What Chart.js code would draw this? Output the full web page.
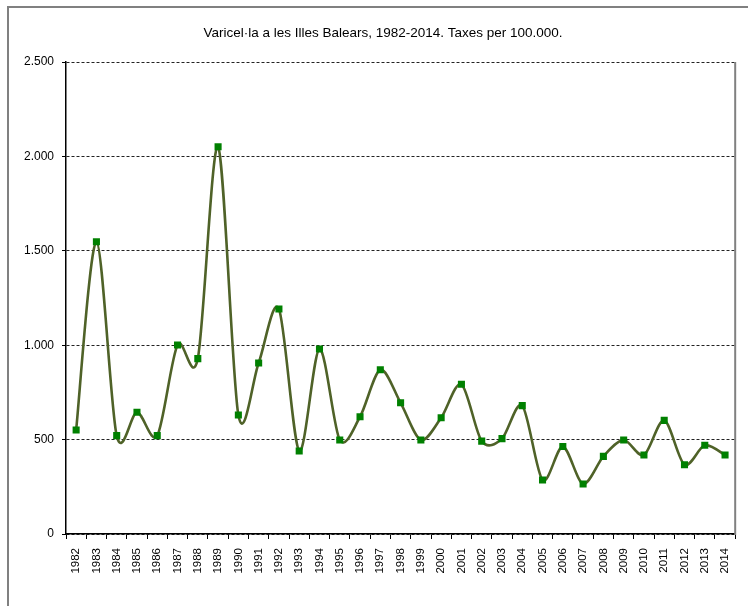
<!DOCTYPE html>
<html>
<head>
<meta charset="utf-8">
<script src="https://cdn.jsdelivr.net/npm/chart.js@4.4.1/dist/chart.umd.min.js"></script>
<style>
  html, body { margin: 0; padding: 0; background: #fff; }
  #c { display: block; }
</style>
</head>
<body>
<canvas id="c" width="748" height="606"></canvas>
<script>
const titleText = 'Varicel·la a les Illes Balears, 1982-2014. Taxes per 100.000.';
const years = ['1982','1983','1984','1985','1986','1987','1988','1989','1990','1991','1992','1993','1994','1995','1996','1997','1998','1999','2000','2001','2002','2003','2004','2005','2006','2007','2008','2009','2010','2011','2012','2013','2014'];
const rates = [551,1548,521,645,521,1001,929,2051,630,906,1192,440,980,498,621,870,695,498,616,793,492,505,680,286,463,265,411,498,418,602,367,470,418];
const yTickLabels = ['0','500','1.000','1.500','2.000','2.500'];

const FONT = "'Liberation Sans', Arial, sans-serif";

// Excel-like smoothing: uniform Catmull-Rom control points computed from the
// pixel positions that Chart.js itself assigned to the points.
const smoothPlugin = {
  id: 'excelSmooth',
  beforeDatasetDraw(chart, args) {
    const meta = args.meta;
    const pts = meta.data;
    const k = 0.15;
    const n = pts.length;
    for (let i = 0; i < n; i++) {
      const p = pts[i];
      const prev = pts[Math.max(0, i - 1)];
      const next = pts[Math.min(n - 1, i + 1)];
      const dx = next.x - prev.x;
      const dy = next.y - prev.y;
      p.cp1x = p.x - dx * k;
      p.cp1y = p.y - dy * k;
      p.cp2x = p.x + dx * k;
      p.cp2y = p.y + dy * k;
    }
    if (meta.dataset) {
      meta.dataset._pointsUpdated = true;
      meta.dataset._path = undefined;
    }
  }
};

const framePlugin = {
  id: 'frame',
  beforeDraw(chart) {
    const ctx = chart.ctx;
    ctx.save();
    ctx.fillStyle = '#fff';
    ctx.fillRect(0, 0, chart.width, chart.height);
    ctx.strokeStyle = '#808080';
    ctx.lineWidth = 2;
    ctx.beginPath();
    ctx.moveTo(8, chart.height);
    ctx.lineTo(8, 7);
    ctx.lineTo(chart.width, 7);
    ctx.stroke();
    ctx.restore();
  },
  afterDraw(chart) {
    const ctx = chart.ctx;
    const a = chart.chartArea;
    ctx.save();
    ctx.strokeStyle = '#808080';
    ctx.lineWidth = 2;
    ctx.beginPath();
    ctx.moveTo(a.right, a.top);
    ctx.lineTo(a.right, a.bottom + 1);
    ctx.stroke();
    ctx.fillStyle = '#000';
    ctx.font = '13.5px ' + FONT;
    ctx.textAlign = 'center';
    ctx.textBaseline = 'middle';
    ctx.fillText(titleText, 383, 33);
    ctx.restore();
  }
};

new Chart(document.getElementById('c'), {
  type: 'line',
  data: {
    labels: years,
    datasets: [{
      data: rates,
      borderColor: '#4f6228',
      borderWidth: 2.6,
      tension: 0.4,
      fill: false,
      pointStyle: 'rect',
      pointRadius: 5,
      pointBackgroundColor: '#008000',
      pointBorderColor: '#008000',
      pointBorderWidth: 0
    }]
  },
  options: {
    responsive: false,
    animation: false,
    devicePixelRatio: 1,
    layout: { padding: { top: 62, right: 10, left: 0, bottom: 0 } },
    plugins: {
      legend: { display: false },
      title: { display: false },
      tooltip: { enabled: false }
    },
    scales: {
      x: {
        type: 'category',
        offset: true,
        grid: {
          display: true,
          offset: true,
          drawOnChartArea: false,
          drawTicks: true,
          tickLength: 5,
          tickColor: '#000',
          tickWidth: 1
        },
        border: { color: '#000', width: 1.5 },
        ticks: {
          autoSkip: false,
          minRotation: 90,
          maxRotation: 90,
          padding: 9,
          color: '#000',
          font: { family: FONT, size: 11.5 }
        },
        afterFit(scale) { scale.height = 72; }
      },
      y: {
        min: 0,
        max: 2500,
        ticks: {
          stepSize: 500,
          padding: 8,
          color: '#000',
          font: { family: FONT, size: 12 },
          callback: (v, i) => yTickLabels[i]
        },
        grid: {
          color: '#222',
          lineWidth: 1,
          drawTicks: true,
          tickLength: 4,
          tickColor: '#000',
          tickBorderDash: [],
          tickWidth: 1
        },
        border: { color: '#000', width: 1.5, dash: [3, 2] },
        afterFit(scale) { scale.width = 66; }
      }
    }
  },
  plugins: [framePlugin, smoothPlugin]
});
</script>
</body>
</html>
